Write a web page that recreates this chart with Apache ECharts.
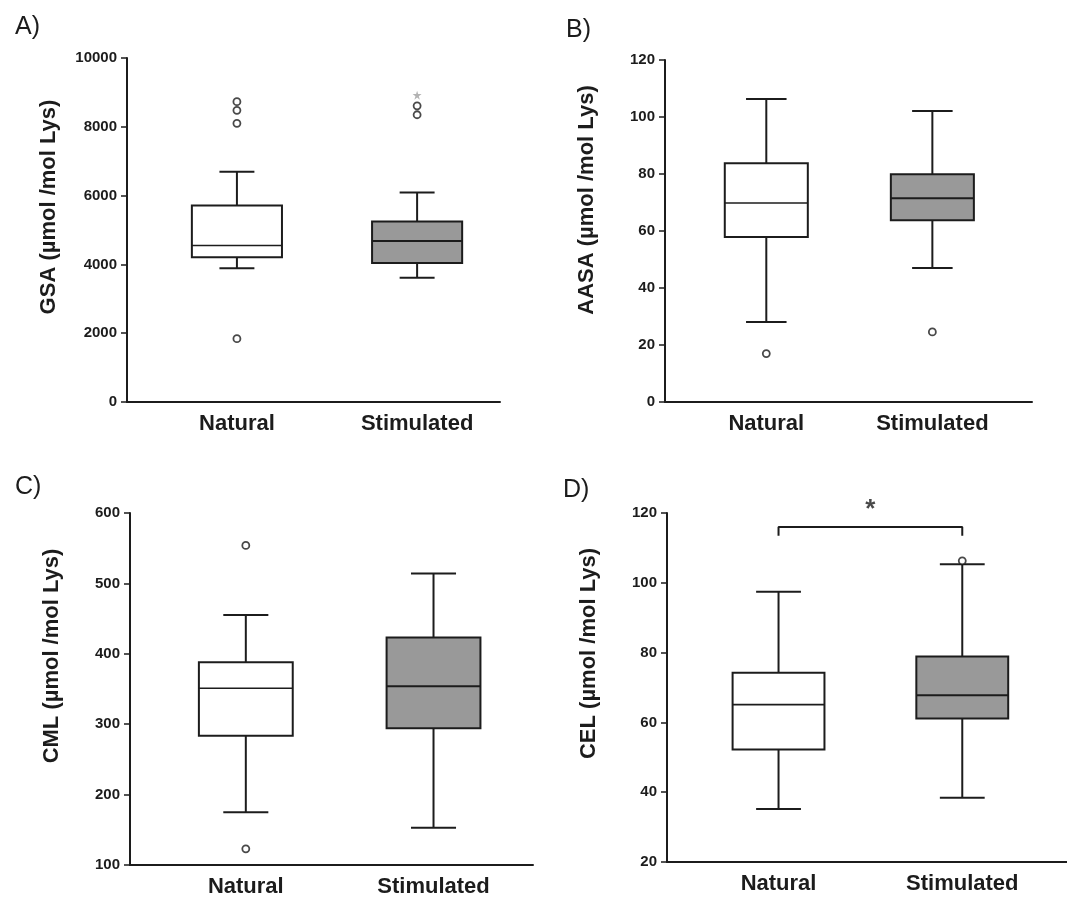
<!DOCTYPE html>
<html>
<head>
<meta charset="utf-8">
<title>AGE boxplots</title>
<script src="https://cdn.jsdelivr.net/npm/echarts@6/dist/echarts.min.js"></script>
<style>
  html, body { margin: 0; padding: 0; background: #fff; }
  #main { width: 1067px; height: 898px; }
</style>
</head>
<body>
<div id="main"></div>
<script>
// 分组
var categories = ['Natural', 'Stimulated'];
var panelLetters = ['A)', 'B)', 'C)', 'D)'];
var axisNames = ['GSA (µmol /mol Lys)', 'AASA (µmol /mol Lys)', 'CML (µmol /mol Lys)', 'CEL (µmol /mol Lys)'];

// y轴刻度 [min, max, interval]
var gsaTicks = [0, 10000, 2000];
var aasaTicks = [0, 120, 20];
var cmlTicks = [100, 600, 100];
var celTicks = [20, 120, 20];

// 箱线图数据 [下须, Q1, 中位数, Q3, 上须]
var gsaBox = [[3890, 4210, 4550, 5710, 6690], [3610, 4040, 4680, 5250, 6090]];
var aasaBox = [[28.1, 57.9, 69.8, 83.8, 106.3], [47, 63.8, 71.5, 79.9, 102.1]];
var cmlBox = [[175, 283.5, 351, 388, 455], [153, 294.4, 354, 423, 514]];
var celBox = [[35.2, 52.2, 65.1, 74.2, 97.4], [38.4, 61.1, 67.8, 78.9, 105.3]];

// 离群值 [组, 值]
var gsaOutliers = [[1, 8730], [1, 8480], [1, 8100], [1, 1840], [2, 8610], [2, 8350]];
var gsaExtremes = [[2, 8920]];
var aasaOutliers = [[1, 17], [2, 24.6]];
var cmlOutliers = [[1, 554], [1, 123]];
var celOutliers = [[2, 106.3]];

// 显著性标记
var celBracket = [[1, 113.5], [1, 116], [2, 116], [2, 113.5]];
var celStar = [[1.5, 120.8]];

var INK = '#1c1c1c';
var FONT = 'Arial, "Liberation Sans", sans-serif';

var grids = [
    {left: 127, top: 58, width: 373, height: 344},
    {left: 665, top: 60, width: 367, height: 342},
    {left: 130, top: 513, width: 403, height: 353},
    {left: 667, top: 513, width: 400, height: 349}
];
var xRanges = [[0.39, 2.46], [0.39, 2.6], [0.383, 2.53], [0.393, 2.57]];
var tickSets = [gsaTicks, aasaTicks, cmlTicks, celTicks];
var boxSets = [gsaBox, aasaBox, cmlBox, celBox];
var outlierSets = [gsaOutliers, aasaOutliers, cmlOutliers, celOutliers];
var capHalf = [0.097, 0.122, 0.12, 0.122];
var nameShift = [46, 62, 66, 68];

function renderBox(params, api) {
    var x = api.value(0);
    var lo = api.coord([x, api.value(1)]);
    var q1 = api.coord([x, api.value(2)]);
    var md = api.coord([x, api.value(3)]);
    var q3 = api.coord([x, api.value(4)]);
    var hi = api.coord([x, api.value(5)]);
    var half = api.size([0.25, 0])[0];
    var cap = api.size([capHalf[params.seriesIndex] || 0.12, 0])[0];
    var c = lo[0];
    var fill = x === 2 ? '#999999' : '#ffffff';
    var ls = {stroke: INK, lineWidth: 2};
    return {
        type: 'group',
        children: [
            {type: 'line', shape: {x1: c, y1: lo[1], x2: c, y2: q1[1]}, style: ls},
            {type: 'line', shape: {x1: c, y1: q3[1], x2: c, y2: hi[1]}, style: ls},
            {type: 'line', shape: {x1: c - cap, y1: lo[1], x2: c + cap, y2: lo[1]}, style: ls},
            {type: 'line', shape: {x1: c - cap, y1: hi[1], x2: c + cap, y2: hi[1]}, style: ls},
            {type: 'rect', shape: {x: c - half, y: q3[1], width: half * 2, height: q1[1] - q3[1]},
                style: {fill: fill, stroke: INK, lineWidth: 2}},
            {type: 'line', shape: {x1: c - half, y1: md[1], x2: c + half, y2: md[1]},
                style: {stroke: INK, lineWidth: x === 2 ? 2 : 1.6}}
        ]
    };
}

var xAxes = [], yAxes = [], series = [], titles = [];
var titlePos = [[10, 10], [561, 13], [10, 470], [558, 473]];

for (var i = 0; i < 4; i++) {
    titles.push({
        text: panelLetters[i], left: titlePos[i][0], top: titlePos[i][1],
        textStyle: {fontFamily: FONT, fontWeight: 'normal', fontSize: 25, color: INK}
    });
    xAxes.push({
        type: 'value', gridIndex: i, min: xRanges[i][0], max: xRanges[i][1],
        splitLine: {show: false},
        axisTick: {show: false},
        axisLine: {show: true, onZero: false, lineStyle: {color: INK, width: 2}},
        axisLabel: {
            customValues: [1, 2],
            formatter: function (v) { return categories[Math.round(v) - 1]; },
            fontFamily: FONT, fontWeight: 'bold', fontSize: 22, color: INK, margin: 11
        }
    });
    yAxes.push({
        type: 'value', gridIndex: i,
        min: tickSets[i][0], max: tickSets[i][1], interval: tickSets[i][2],
        name: axisNames[i], nameLocation: 'middle', nameGap: 67,
        nameTextStyle: {fontFamily: FONT, fontWeight: 'bold', fontSize: 22, color: INK,
            padding: [0, 0, 0, nameShift[i]]},
        splitLine: {show: false},
        axisLine: {show: true, lineStyle: {color: INK, width: 2}},
        axisTick: {show: true, length: 6, lineStyle: {color: INK, width: 1.5}},
        axisLabel: {
            formatter: function (v) { return String(v); },
            fontFamily: FONT, fontWeight: 'bold', fontSize: 15, color: INK, margin: 10
        }
    });
}

for (var j = 0; j < 4; j++) {
    series.push({
        type: 'custom', xAxisIndex: j, yAxisIndex: j,
        renderItem: renderBox,
        data: boxSets[j].map(function (b, k) { return [k + 1].concat(b); }),
        clip: false, z: 2
    });
}
for (var m = 0; m < 4; m++) {
    series.push({
        type: 'scatter', xAxisIndex: m, yAxisIndex: m,
        data: outlierSets[m], symbol: 'circle', symbolSize: 7,
        itemStyle: {color: '#fff', borderColor: INK, borderWidth: 1.8},
        clip: false, z: 5
    });
}

// 极端值（星号）
series.push({
    type: 'scatter', xAxisIndex: 0, yAxisIndex: 0,
    data: gsaExtremes,
    symbol: 'path://M50,0 L61,35 L98,35 L68,57 L79,91 L50,70 L21,91 L32,57 L2,35 L39,35 Z',
    symbolSize: 9, itemStyle: {color: '#a0a0a0'}, z: 5
});

// 显著性括号
series.push({
    type: 'line', xAxisIndex: 3, yAxisIndex: 3,
    data: celBracket, symbol: 'none', clip: false,
    lineStyle: {color: INK, width: 2}, z: 3
});
series.push({
    type: 'scatter', xAxisIndex: 3, yAxisIndex: 3,
    data: celStar, symbolSize: 0, clip: false,
    label: {show: true, formatter: '*', position: 'inside',
        fontFamily: FONT, fontWeight: 'bold', fontSize: 26, color: INK}
});

var chart = echarts.init(document.getElementById('main'));
chart.setOption({
    backgroundColor: '#ffffff',
    animation: false,
    title: titles,
    grid: grids,
    xAxis: xAxes,
    yAxis: yAxes,
    series: series
});
</script>
</body>
</html>
